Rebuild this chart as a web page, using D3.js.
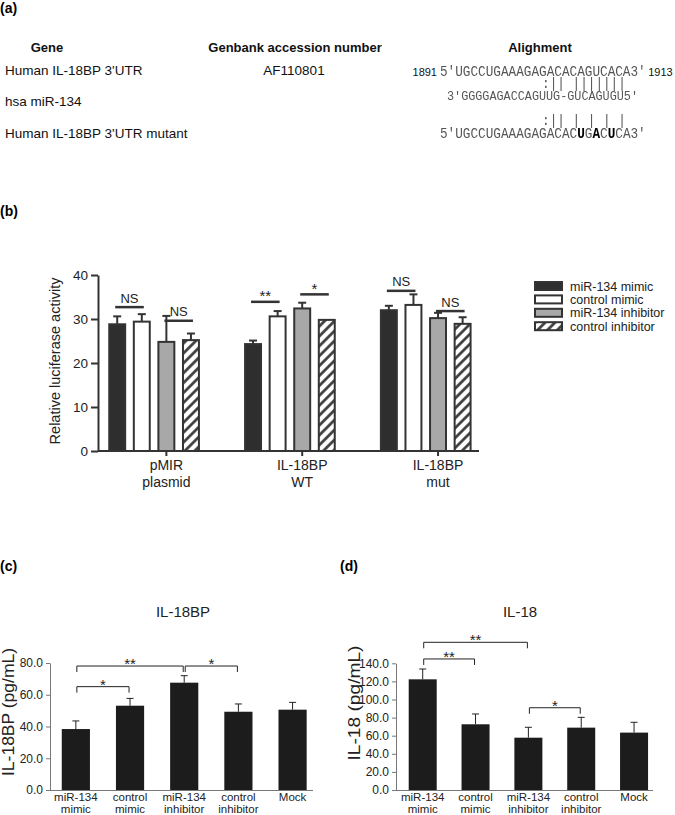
<!DOCTYPE html>
<html><head><meta charset="utf-8">
<script src="https://cdn.jsdelivr.net/npm/d3@7"></script>
<style>
body{margin:0;background:#fff}
svg{display:block;font-family:"Liberation Sans",Arial,sans-serif}
</style>
</head><body>
<svg id="chart" width="675" height="815"></svg>
<script>
// ---------- Panel (a) data ----------
const tableHeaders = ["Gene", "Genbank accession number", "Alighment"];
const geneNames = ["Human IL-18BP 3'UTR", "hsa miR-134", "Human IL-18BP 3'UTR mutant"];
const accessionNumbers = ["AF110801", "", ""];
const alignStartPos = "1891";
const alignEndPos = "1913";
const seqWT = "5'UGCCUGAAAGAGACACAGUCACA3'";
const pairWT = ":|| |||||||";
const seqMiR = "3'GGGGAGACCAGUUG-GUCAGUGU5'";
const pairMut = ":|| | | | |";
const seqMut = "5'UGCCUGAAAGAGACACUGACUCA3'";
const mutBoldIdx = [18, 20, 22];

// ---------- Panel (b) data ----------
const groupsB = ["pMIR plasmid", "IL-18BP WT", "IL-18BP mut"];
const groupLabelsB = [["pMIR", "plasmid"], ["IL-18BP", "WT"], ["IL-18BP", "mut"]];
const seriesB = ["miR-134 mimic", "control mimic", "miR-134 inhibitor", "control inhibitor"];
const mimicB = [28.8, 24.3, 32.0];
const controlMimicB = [29.4, 30.6, 33.2];
const inhibitorB = [24.8, 32.4, 30.2];
const controlInhibitorB = [25.2, 29.8, 28.9];
const mimicErrB = [1.8, 0.8, 1.0];
const controlMimicErrB = [1.7, 1.2, 2.4];
const inhibitorErrB = [5.9, 1.3, 1.2];
const controlInhibitorErrB = [1.5, 0, 1.5];
const ticksB = [0, 10, 20, 30, 40];
const sigB = [
  {g: 0, a: 0, b: 1, label: "NS", y: 32.7},
  {g: 0, a: 2, b: 3, label: "NS", y: 29.6},
  {g: 1, a: 0, b: 1, label: "**", y: 33.9},
  {g: 1, a: 2, b: 3, label: "*", y: 35.6},
  {g: 2, a: 0, b: 1, label: "NS", y: 36.4},
  {g: 2, a: 2, b: 3, label: "NS", y: 31.8}
];

// ---------- Panels (c) and (d) data ----------
const categoriesCD = ["miR-134 mimic", "control mimic", "miR-134 inhibitor", "control inhibitor", "Mock"];
const categoryLabelsCD = [["miR-134", "mimic"], ["control", "mimic"], ["miR-134", "inhibitor"], ["control", "inhibitor"], ["Mock"]];
const valuesC = [38.4, 53.1, 67.6, 49.3, 50.6];
const errC = [5.1, 4.6, 4.4, 4.9, 4.6];
const ticksC = [0, 20, 40, 60, 80];
const bracketsC = [
  {a: 0, b: 1, label: "*", y: 65.1},
  {a: 0, b: 2, label: "**", y: 78.1},
  {a: 2, b: 3, label: "*", y: 78.1}
];
const valuesD = [122.3, 72.6, 57.8, 68.9, 63.4];
const errD = [11.4, 11.4, 11.5, 11.4, 11.4];
const ticksD = [0, 20, 40, 60, 80, 100, 120, 140];
const bracketsD = [
  {a: 0, b: 1, label: "**", y: 144.8},
  {a: 0, b: 2, label: "**", y: 163.2},
  {a: 2, b: 3, label: "*", y: 90.9}
];

const svg = d3.select("#chart");
const dark = "#333";
const defs = svg.append("defs");
const gray = defs.append("filter").attr("id", "gray");
gray.append("feColorMatrix").attr("type", "saturate").attr("values", 0);

// ================= Panel (a) =================
svg.append("text").attr("x", 0).attr("y", 13).attr("font-size", 14).attr("font-weight", "bold").text("(a)");
const headerX = [47, 295, 540];
svg.selectAll("text.hdr").data(tableHeaders).join("text").attr("class", "hdr")
  .attr("x", (d, i) => headerX[i]).attr("y", 52).attr("text-anchor", "middle")
  .attr("font-size", 13).attr("font-weight", "bold").attr("fill", "#111").text(d => d);
const rowY = [74.5, 106, 137.5];
svg.selectAll("text.gene").data(geneNames).join("text").attr("class", "gene")
  .attr("x", 5).attr("y", (d, i) => rowY[i]).attr("font-size", 13.5).attr("fill", "#111").text(d => d);
svg.selectAll("text.acc").data(accessionNumbers).join("text").attr("class", "acc")
  .attr("x", 294).attr("y", (d, i) => rowY[i]).attr("text-anchor", "middle")
  .attr("font-size", 13.5).attr("fill", "#111").text(d => d);

const mono = "'Liberation Mono','Courier New',monospace";
const seqX = 440, cw = 7.62;
const seqG = svg.append("g").attr("filter", "url(#gray)");
const seqRows = [
  {t: seqWT, y: 76, x: seqX, fs: 14, len: seqWT.length * cw},
  {t: pairWT, y: 88, x: seqX + 13 * cw + 3, fs: 14, len: pairWT.length * cw},
  {t: seqMiR, y: 100, x: seqX + 7, fs: 13.2, len: 191},
  {t: pairMut, y: 125, x: seqX + 13 * cw + 3, fs: 14, len: pairMut.length * cw},
  {t: seqMut, y: 138, x: seqX, fs: 14, len: seqMut.length * cw}
];
seqRows.forEach((r, ri) => {
  const t = seqG.append("text").attr("x", r.x).attr("y", r.y).attr("font-family", mono)
    .attr("font-size", r.fs).attr("fill", "#555").attr("xml:space", "preserve")
    .attr("textLength", r.len).attr("lengthAdjust", "spacingAndGlyphs");
  if (ri === 4) {
    r.t.split("").forEach((ch, i) => {
      const b = mutBoldIdx.includes(i);
      t.append("tspan").attr("font-weight", b ? "bold" : "normal").attr("fill", b ? "#000" : "#555").text(ch);
    });
  } else {
    t.text(r.t);
  }
});
svg.append("text").attr("x", seqX - 3).attr("y", 76).attr("text-anchor", "end").attr("font-size", 11).attr("fill", "#111").text(alignStartPos);
svg.append("text").attr("x", seqX + seqWT.length * cw + 2.5).attr("y", 76).attr("font-size", 11).attr("fill", "#111").text(alignEndPos);

// ================= Panel (b) =================
svg.append("text").attr("x", 0).attr("y", 216).attr("font-size", 14).attr("font-weight", "bold").text("(b)");
const pat = defs.append("pattern").attr("id", "hatch").attr("patternUnits", "userSpaceOnUse")
  .attr("width", 7).attr("height", 7).attr("patternTransform", "rotate(45)");
pat.append("rect").attr("width", 7).attr("height", 7).attr("fill", "#fff");
pat.append("line").attr("x1", 1.5).attr("y1", 0).attr("x2", 1.5).attr("y2", 7).attr("stroke", dark).attr("stroke-width", 2.6);

const fillsB = ["#2e2e2e", "#ffffff", "#a8a8a8", "url(#hatch)"];
const valsB = [mimicB, controlMimicB, inhibitorB, controlInhibitorB];
const errsB = [mimicErrB, controlMimicErrB, inhibitorErrB, controlInhibitorErrB];

const yB = d3.scaleLinear().domain([0, 40]).range([451, 275]);
const x0 = d3.scaleBand().domain(groupsB).range([98, 479]).paddingInner(0.325).paddingOuter(0.065).align(0.58);
const x1 = d3.scaleBand().domain(seriesB).range([0, x0.bandwidth()]).paddingInner(0.27);
const cx = (g, s) => x0(groupsB[g]) + x1(seriesB[s]) + x1.bandwidth() / 2;

const barDataB = [];
groupsB.forEach((g, gi) => seriesB.forEach((s, si) => barDataB.push({g: gi, s: si, v: valsB[si][gi], e: errsB[si][gi]})));

const gB = svg.append("g");
gB.selectAll("line.ebv").data(barDataB.filter(d => d.e > 0)).join("line")
  .attr("x1", d => cx(d.g, d.s)).attr("x2", d => cx(d.g, d.s))
  .attr("y1", d => yB(d.v)).attr("y2", d => yB(d.v + d.e)).attr("stroke", dark).attr("stroke-width", 2);
gB.selectAll("line.ebc").data(barDataB.filter(d => d.e > 0)).join("line")
  .attr("x1", d => cx(d.g, d.s) - 4).attr("x2", d => cx(d.g, d.s) + 4)
  .attr("y1", d => yB(d.v + d.e)).attr("y2", d => yB(d.v + d.e)).attr("stroke", dark).attr("stroke-width", 2);
gB.selectAll("rect.bar").data(barDataB).join("rect")
  .attr("x", d => x0(groupsB[d.g]) + x1(seriesB[d.s]) + 1).attr("width", x1.bandwidth() - 2)
  .attr("y", d => yB(d.v)).attr("height", d => yB(0) - yB(d.v))
  .attr("fill", d => fillsB[d.s]).attr("stroke", dark).attr("stroke-width", 2);

const yAxisB = d3.axisLeft(yB).tickValues(ticksB).tickSize(7).tickSizeOuter(0).tickPadding(3).tickFormat(d3.format("d"));
const ya = gB.append("g").attr("transform", "translate(98,0)").call(yAxisB);
ya.select(".domain").attr("stroke", dark).attr("stroke-width", 2);
ya.selectAll(".tick line").attr("stroke", dark).attr("stroke-width", 2);
ya.selectAll(".tick text").attr("font-size", 13.5).attr("fill", "#222").attr("font-family", "'Liberation Sans',Arial,sans-serif");
gB.append("line").attr("x1", x0.range()[0]).attr("x2", x0.range()[1]).attr("y1", yB(0)).attr("y2", yB(0)).attr("stroke", dark).attr("stroke-width", 2);
groupsB.forEach((g, gi) => {
  const tx = cx(gi, 2);
  gB.append("line").attr("x1", tx).attr("x2", tx).attr("y1", yB(0)).attr("y2", yB(0) + 5).attr("stroke", dark).attr("stroke-width", 2);
  const t = gB.append("text").attr("text-anchor", "middle").attr("font-size", 14).attr("fill", "#222");
  groupLabelsB[gi].forEach((l, li) => {
    t.append("tspan").attr("x", tx).attr("y", 470 + li * 17).text(l);
  });
});
gB.append("text").attr("transform", "translate(55,361) rotate(-90)").attr("dy", "0.35em")
  .attr("text-anchor", "middle").attr("font-size", 14.5).attr("fill", "#222").text("Relative luciferase activity");

sigB.forEach(s => {
  const xa = cx(s.g, s.a) - 2, xb = cx(s.g, s.b) + 2, yy = yB(s.y);
  gB.append("line").attr("x1", xa).attr("x2", xb).attr("y1", yy).attr("y2", yy).attr("stroke", dark).attr("stroke-width", 2.5);
  const isNS = s.label === "NS";
  gB.append("text").attr("x", (xa + xb) / 2).attr("y", isNS ? yy - 4.5 : yy - 0.5).attr("text-anchor", "middle")
    .attr("font-size", isNS ? 13 : 15).attr("fill", "#222").text(s.label);
});

const leg = svg.append("g").attr("transform", "translate(534,282)");
seriesB.forEach((s, i) => {
  leg.append("rect").attr("x", 1).attr("y", i * 13.4).attr("width", 27).attr("height", 8)
    .attr("fill", fillsB[i]).attr("stroke", dark).attr("stroke-width", 2);
  leg.append("text").attr("x", 36).attr("y", i * 13.4 + 8.5).attr("font-size", 12.5).attr("fill", "#222").text(s);
});

// ================= Panels (c) & (d) =================
function drawPanel(cfg) {
  const g = svg.append("g");
  g.append("text").attr("x", cfg.letterX).attr("y", 571).attr("font-size", 14).attr("font-weight", "bold").text(cfg.letter);
  g.append("text").attr("x", cfg.titleX).attr("y", 617).attr("text-anchor", "middle").attr("font-size", 15).attr("fill", "#222").text(cfg.title);
  const y = d3.scaleLinear().domain([0, cfg.max]).range([790, cfg.top]);
  const x = d3.scaleBand().domain(categoriesCD).range(cfg.xr).paddingInner(cfg.pi).paddingOuter(0.167).align(cfg.align);
  const c = i => x(categoriesCD[i]) + x.bandwidth() / 2;
  const data = categoriesCD.map((k, i) => ({i, v: cfg.values[i], e: cfg.errs[i]}));
  g.selectAll("line.ev").data(data).join("line")
    .attr("x1", d => c(d.i)).attr("x2", d => c(d.i)).attr("y1", d => y(d.v)).attr("y2", d => y(d.v + d.e))
    .attr("stroke", "#222").attr("stroke-width", 1);
  g.selectAll("line.ec").data(data).join("line")
    .attr("x1", d => c(d.i) - 3.5).attr("x2", d => c(d.i) + 3.5).attr("y1", d => y(d.v + d.e)).attr("y2", d => y(d.v + d.e))
    .attr("stroke", "#222").attr("stroke-width", 1);
  g.selectAll("rect.b").data(data).join("rect")
    .attr("x", d => x(categoriesCD[d.i])).attr("width", x.bandwidth())
    .attr("y", d => y(d.v)).attr("height", d => y(0) - y(d.v)).attr("fill", "#1c1c1c");
  const ax = d3.axisLeft(y).tickValues(cfg.ticks).tickSize(4).tickSizeOuter(0).tickPadding(3).tickFormat(d3.format(".1f"));
  const ag = g.append("g").attr("transform", `translate(${cfg.xr[0]},0)`).call(ax);
  ag.select(".domain").attr("stroke", "#777");
  ag.selectAll(".tick line").attr("stroke", "#777");
  ag.selectAll(".tick text").attr("font-size", 12).attr("fill", "#222").attr("font-family", "'Liberation Sans',Arial,sans-serif");
  g.append("line").attr("x1", cfg.xr[0]).attr("x2", cfg.xr[1]).attr("y1", 790.5).attr("y2", 790.5).attr("stroke", "#777");
  categoryLabelsCD.forEach((lines, i) => {
    const t = g.append("text").attr("text-anchor", "middle").attr("font-size", 11.5).attr("fill", "#222");
    lines.forEach((l, li) => {
      t.append("tspan").attr("x", c(i)).attr("y", 801 + li * 12).text(l);
    });
  });
  g.append("text").attr("transform", `translate(${cfg.labelX},${cfg.labelY}) rotate(-90)`).attr("dy", "0.35em")
    .attr("text-anchor", "middle").attr("font-size", 16).attr("fill", "#222")
    .attr("textLength", cfg.labelLen).attr("lengthAdjust", "spacingAndGlyphs").text(cfg.ylabel);
  cfg.brackets.forEach(b => {
    const xa = c(b.a) + 1, xb = c(b.b) - 1, yy = y(b.y);
    g.append("path").attr("d", `M${xa},${yy + 6}V${yy}H${xb}V${yy + 6}`).attr("fill", "none").attr("stroke", "#222").attr("stroke-width", 1);
    g.append("text").attr("x", (xa + xb) / 2).attr("y", yy + 3).attr("text-anchor", "middle")
      .attr("font-size", 15).attr("fill", "#222").text(b.label);
  });
}

drawPanel({letter: "(c)", letterX: 0, title: "IL-18BP", titleX: 183, max: 80, top: 663, xr: [50, 313], pi: 0.48, align: 0.65,
  values: valuesC, errs: errC, ticks: ticksC, brackets: bracketsC, ylabel: "IL-18BP (pg/mL)", labelX: 8, labelY: 712, labelLen: 128});
drawPanel({letter: "(d)", letterX: 340, title: "IL-18", titleX: 520, max: 140, top: 663.3, xr: [396, 653], pi: 0.47, align: 0.72,
  values: valuesD, errs: errD, ticks: ticksD, brackets: bracketsD, ylabel: "IL-18 (pg/mL)", labelX: 354, labelY: 703, labelLen: 115});
</script>
</body></html>
